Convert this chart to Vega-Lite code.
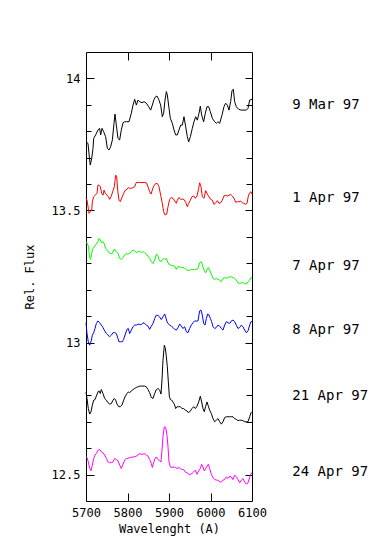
{
"$schema": "https://vega.github.io/schema/vega-lite/v6.json",
"width": 166, "height": 449,
"autosize": "none",
"padding": {"left": 86, "top": 52, "right": 138, "bottom": 57},
"background": "white",
"config": {
  "view": {"stroke": "black", "strokeWidth": 1},
  "axis": {"labelFont": "DejaVu Sans Mono", "labelFontSize": 12, "labelColor": "black", "titleFont": "DejaVu Sans Mono", "titleFontSize": 12, "titleFontWeight": "normal", "titleColor": "black", "tickColor": "black", "tickWidth": 1, "grid": false, "domain": false, "labelFlush": false, "labelOverlap": false}
},
"datasets": {
"mar9": [{"w":5700.0,"f":13.760},{"w":5704.8,"f":13.754},{"w":5708.8,"f":13.691},{"w":5710.4,"f":13.672},{"w":5713.7,"f":13.697},{"w":5716.9,"f":13.735},{"w":5718.5,"f":13.773},{"w":5723.3,"f":13.786},{"w":5728.9,"f":13.805},{"w":5732.9,"f":13.811},{"w":5735.3,"f":13.786},{"w":5738.6,"f":13.811},{"w":5742.6,"f":13.798},{"w":5747.4,"f":13.779},{"w":5751.4,"f":13.735},{"w":5755.4,"f":13.729},{"w":5759.4,"f":13.741},{"w":5763.5,"f":13.767},{"w":5767.5,"f":13.830},{"w":5769.9,"f":13.865},{"w":5773.1,"f":13.823},{"w":5777.1,"f":13.773},{"w":5781.1,"f":13.767},{"w":5785.1,"f":13.805},{"w":5789.2,"f":13.832},{"w":5793.2,"f":13.836},{"w":5797.2,"f":13.836},{"w":5803.6,"f":13.836},{"w":5809.2,"f":13.868},{"w":5813.3,"f":13.899},{"w":5817.3,"f":13.921},{"w":5821.3,"f":13.899},{"w":5825.3,"f":13.918},{"w":5829.3,"f":13.912},{"w":5834.9,"f":13.908},{"w":5839.8,"f":13.912},{"w":5845.4,"f":13.906},{"w":5851.0,"f":13.893},{"w":5855.8,"f":13.880},{"w":5859.8,"f":13.899},{"w":5863.9,"f":13.921},{"w":5867.9,"f":13.931},{"w":5871.1,"f":13.933},{"w":5875.1,"f":13.921},{"w":5879.9,"f":13.899},{"w":5883.9,"f":13.855},{"w":5887.1,"f":13.868},{"w":5890.4,"f":13.918},{"w":5893.6,"f":13.950},{"w":5896.0,"f":13.937},{"w":5900.0,"f":13.887},{"w":5903.2,"f":13.849},{"w":5908.0,"f":13.830},{"w":5912.0,"f":13.805},{"w":5916.1,"f":13.786},{"w":5920.1,"f":13.786},{"w":5924.1,"f":13.805},{"w":5928.1,"f":13.823},{"w":5932.1,"f":13.823},{"w":5936.1,"f":13.855},{"w":5940.2,"f":13.817},{"w":5944.2,"f":13.779},{"w":5947.4,"f":13.760},{"w":5951.4,"f":13.779},{"w":5956.2,"f":13.811},{"w":5960.2,"f":13.836},{"w":5964.3,"f":13.855},{"w":5968.3,"f":13.842},{"w":5972.3,"f":13.868},{"w":5975.5,"f":13.895},{"w":5978.7,"f":13.861},{"w":5983.5,"f":13.836},{"w":5987.5,"f":13.868},{"w":5991.6,"f":13.893},{"w":5995.6,"f":13.893},{"w":5999.6,"f":13.874},{"w":6004.4,"f":13.849},{"w":6010.0,"f":13.836},{"w":6014.1,"f":13.830},{"w":6018.1,"f":13.836},{"w":6022.1,"f":13.830},{"w":6027.7,"f":13.861},{"w":6032.5,"f":13.893},{"w":6036.5,"f":13.906},{"w":6040.6,"f":13.899},{"w":6044.6,"f":13.880},{"w":6048.6,"f":13.912},{"w":6051.8,"f":13.954},{"w":6055.0,"f":13.959},{"w":6058.2,"f":13.912},{"w":6062.2,"f":13.893},{"w":6067.9,"f":13.883},{"w":6074.3,"f":13.880},{"w":6080.7,"f":13.880},{"w":6086.3,"f":13.880},{"w":6090.4,"f":13.887},{"w":6094.4,"f":13.918},{"w":6100.0,"f":13.921}],
"apr1": [{"w":5700.0,"f":13.546},{"w":5702.4,"f":13.539},{"w":5705.6,"f":13.508},{"w":5707.2,"f":13.489},{"w":5710.4,"f":13.495},{"w":5713.7,"f":13.501},{"w":5715.3,"f":13.533},{"w":5718.5,"f":13.552},{"w":5722.5,"f":13.558},{"w":5726.5,"f":13.565},{"w":5728.9,"f":13.596},{"w":5731.3,"f":13.596},{"w":5734.5,"f":13.590},{"w":5737.8,"f":13.565},{"w":5741.0,"f":13.558},{"w":5743.4,"f":13.577},{"w":5746.6,"f":13.565},{"w":5750.6,"f":13.558},{"w":5753.8,"f":13.552},{"w":5757.0,"f":13.542},{"w":5761.0,"f":13.555},{"w":5765.1,"f":13.575},{"w":5768.3,"f":13.590},{"w":5771.5,"f":13.634},{"w":5773.9,"f":13.628},{"w":5776.3,"f":13.577},{"w":5779.5,"f":13.539},{"w":5782.7,"f":13.533},{"w":5786.7,"f":13.549},{"w":5790.8,"f":13.565},{"w":5794.8,"f":13.577},{"w":5798.8,"f":13.580},{"w":5802.0,"f":13.587},{"w":5805.2,"f":13.584},{"w":5809.2,"f":13.584},{"w":5813.3,"f":13.587},{"w":5817.3,"f":13.590},{"w":5821.3,"f":13.606},{"w":5829.3,"f":13.606},{"w":5837.3,"f":13.606},{"w":5845.4,"f":13.605},{"w":5849.4,"f":13.590},{"w":5853.4,"f":13.571},{"w":5856.6,"f":13.562},{"w":5859.8,"f":13.577},{"w":5863.0,"f":13.592},{"w":5867.9,"f":13.602},{"w":5871.9,"f":13.602},{"w":5875.9,"f":13.590},{"w":5879.9,"f":13.558},{"w":5883.9,"f":13.527},{"w":5887.1,"f":13.495},{"w":5890.4,"f":13.483},{"w":5894.4,"f":13.486},{"w":5897.6,"f":13.514},{"w":5901.6,"f":13.542},{"w":5905.6,"f":13.549},{"w":5909.6,"f":13.546},{"w":5913.7,"f":13.536},{"w":5917.7,"f":13.527},{"w":5920.1,"f":13.539},{"w":5924.1,"f":13.549},{"w":5928.1,"f":13.542},{"w":5932.1,"f":13.543},{"w":5936.1,"f":13.542},{"w":5940.2,"f":13.531},{"w":5944.2,"f":13.514},{"w":5947.4,"f":13.527},{"w":5951.4,"f":13.539},{"w":5955.4,"f":13.552},{"w":5959.4,"f":13.555},{"w":5963.4,"f":13.546},{"w":5967.5,"f":13.555},{"w":5971.5,"f":13.584},{"w":5973.9,"f":13.605},{"w":5977.1,"f":13.590},{"w":5980.3,"f":13.552},{"w":5984.3,"f":13.546},{"w":5988.4,"f":13.575},{"w":5992.4,"f":13.562},{"w":5996.4,"f":13.552},{"w":6000.4,"f":13.542},{"w":6004.4,"f":13.539},{"w":6008.4,"f":13.523},{"w":6012.5,"f":13.529},{"w":6016.5,"f":13.537},{"w":6020.5,"f":13.527},{"w":6024.5,"f":13.529},{"w":6028.5,"f":13.539},{"w":6032.5,"f":13.555},{"w":6036.5,"f":13.558},{"w":6040.6,"f":13.555},{"w":6044.6,"f":13.558},{"w":6048.6,"f":13.561},{"w":6052.6,"f":13.555},{"w":6056.6,"f":13.546},{"w":6060.6,"f":13.531},{"w":6064.6,"f":13.533},{"w":6068.7,"f":13.533},{"w":6072.7,"f":13.536},{"w":6076.7,"f":13.529},{"w":6080.7,"f":13.527},{"w":6084.7,"f":13.523},{"w":6087.9,"f":13.527},{"w":6091.2,"f":13.555},{"w":6094.4,"f":13.567},{"w":6097.6,"f":13.571},{"w":6100.0,"f":13.562}],
"apr7": [{"w":5700.0,"f":13.378},{"w":5702.4,"f":13.378},{"w":5705.6,"f":13.365},{"w":5708.8,"f":13.322},{"w":5711.2,"f":13.315},{"w":5713.7,"f":13.337},{"w":5716.9,"f":13.356},{"w":5720.9,"f":13.365},{"w":5724.9,"f":13.373},{"w":5728.9,"f":13.382},{"w":5731.3,"f":13.394},{"w":5734.5,"f":13.388},{"w":5736.9,"f":13.378},{"w":5741.0,"f":13.382},{"w":5744.2,"f":13.373},{"w":5747.4,"f":13.356},{"w":5751.4,"f":13.350},{"w":5755.4,"f":13.340},{"w":5759.4,"f":13.337},{"w":5763.5,"f":13.337},{"w":5766.7,"f":13.350},{"w":5769.9,"f":13.352},{"w":5773.1,"f":13.344},{"w":5777.1,"f":13.337},{"w":5781.1,"f":13.318},{"w":5785.1,"f":13.315},{"w":5789.2,"f":13.322},{"w":5793.2,"f":13.331},{"w":5797.2,"f":13.337},{"w":5801.2,"f":13.335},{"w":5805.2,"f":13.337},{"w":5809.2,"f":13.344},{"w":5813.3,"f":13.350},{"w":5817.3,"f":13.347},{"w":5821.3,"f":13.340},{"w":5825.3,"f":13.344},{"w":5829.3,"f":13.346},{"w":5833.3,"f":13.340},{"w":5837.3,"f":13.344},{"w":5841.4,"f":13.340},{"w":5845.4,"f":13.335},{"w":5849.4,"f":13.327},{"w":5853.4,"f":13.318},{"w":5857.4,"f":13.306},{"w":5861.4,"f":13.299},{"w":5865.5,"f":13.312},{"w":5869.5,"f":13.335},{"w":5872.7,"f":13.331},{"w":5875.9,"f":13.315},{"w":5879.1,"f":13.306},{"w":5883.1,"f":13.312},{"w":5887.1,"f":13.318},{"w":5890.4,"f":13.315},{"w":5893.6,"f":13.318},{"w":5897.6,"f":13.302},{"w":5901.6,"f":13.293},{"w":5905.6,"f":13.293},{"w":5909.6,"f":13.291},{"w":5913.7,"f":13.289},{"w":5917.7,"f":13.277},{"w":5921.7,"f":13.287},{"w":5925.7,"f":13.287},{"w":5929.7,"f":13.284},{"w":5933.7,"f":13.284},{"w":5937.7,"f":13.281},{"w":5941.8,"f":13.277},{"w":5945.8,"f":13.272},{"w":5949.8,"f":13.274},{"w":5953.8,"f":13.277},{"w":5957.8,"f":13.277},{"w":5961.8,"f":13.277},{"w":5965.9,"f":13.277},{"w":5969.9,"f":13.281},{"w":5973.9,"f":13.302},{"w":5977.9,"f":13.306},{"w":5981.9,"f":13.287},{"w":5985.9,"f":13.268},{"w":5988.4,"f":13.264},{"w":5991.6,"f":13.277},{"w":5994.8,"f":13.284},{"w":5998.0,"f":13.274},{"w":6002.0,"f":13.259},{"w":6006.0,"f":13.243},{"w":6010.0,"f":13.239},{"w":6014.1,"f":13.243},{"w":6018.1,"f":13.239},{"w":6022.1,"f":13.236},{"w":6026.1,"f":13.230},{"w":6030.1,"f":13.243},{"w":6034.1,"f":13.246},{"w":6038.2,"f":13.243},{"w":6042.2,"f":13.246},{"w":6046.2,"f":13.249},{"w":6050.2,"f":13.249},{"w":6054.2,"f":13.246},{"w":6058.2,"f":13.243},{"w":6062.2,"f":13.236},{"w":6066.3,"f":13.226},{"w":6070.3,"f":13.224},{"w":6074.3,"f":13.226},{"w":6078.3,"f":13.226},{"w":6082.3,"f":13.224},{"w":6086.3,"f":13.221},{"w":6090.4,"f":13.230},{"w":6094.4,"f":13.236},{"w":6097.6,"f":13.246},{"w":6100.0,"f":13.245}],
"apr8": [{"w":5700.0,"f":13.075},{"w":5702.4,"f":13.034},{"w":5705.6,"f":13.003},{"w":5708.8,"f":12.990},{"w":5712.0,"f":13.003},{"w":5715.3,"f":13.028},{"w":5718.5,"f":13.037},{"w":5721.7,"f":13.053},{"w":5724.9,"f":13.072},{"w":5728.9,"f":13.082},{"w":5732.9,"f":13.075},{"w":5736.9,"f":13.066},{"w":5741.0,"f":13.057},{"w":5745.0,"f":13.044},{"w":5749.0,"f":13.034},{"w":5753.0,"f":13.028},{"w":5757.0,"f":13.022},{"w":5761.0,"f":13.028},{"w":5765.1,"f":13.037},{"w":5769.1,"f":13.038},{"w":5773.1,"f":13.034},{"w":5777.1,"f":13.015},{"w":5779.5,"f":13.003},{"w":5783.5,"f":13.003},{"w":5787.5,"f":13.003},{"w":5790.8,"f":13.012},{"w":5794.8,"f":13.032},{"w":5798.8,"f":13.050},{"w":5802.0,"f":13.053},{"w":5805.2,"f":13.034},{"w":5809.2,"f":13.047},{"w":5813.3,"f":13.060},{"w":5817.3,"f":13.066},{"w":5821.3,"f":13.066},{"w":5825.3,"f":13.070},{"w":5829.3,"f":13.068},{"w":5833.3,"f":13.068},{"w":5837.3,"f":13.075},{"w":5841.4,"f":13.072},{"w":5845.4,"f":13.066},{"w":5849.4,"f":13.062},{"w":5853.4,"f":13.050},{"w":5857.4,"f":13.062},{"w":5861.4,"f":13.072},{"w":5865.5,"f":13.091},{"w":5869.5,"f":13.104},{"w":5873.5,"f":13.102},{"w":5877.5,"f":13.097},{"w":5881.5,"f":13.087},{"w":5885.5,"f":13.097},{"w":5889.6,"f":13.108},{"w":5892.0,"f":13.097},{"w":5895.2,"f":13.079},{"w":5897.6,"f":13.072},{"w":5901.6,"f":13.066},{"w":5905.6,"f":13.062},{"w":5909.6,"f":13.057},{"w":5913.7,"f":13.050},{"w":5917.7,"f":13.047},{"w":5921.7,"f":13.057},{"w":5925.7,"f":13.070},{"w":5929.7,"f":13.062},{"w":5933.7,"f":13.053},{"w":5937.7,"f":13.060},{"w":5941.8,"f":13.041},{"w":5945.8,"f":13.037},{"w":5949.8,"f":13.053},{"w":5953.8,"f":13.066},{"w":5957.8,"f":13.075},{"w":5961.8,"f":13.082},{"w":5965.9,"f":13.081},{"w":5969.9,"f":13.082},{"w":5973.9,"f":13.120},{"w":5977.1,"f":13.123},{"w":5980.3,"f":13.104},{"w":5983.5,"f":13.072},{"w":5986.7,"f":13.066},{"w":5990.0,"f":13.091},{"w":5993.2,"f":13.108},{"w":5996.4,"f":13.104},{"w":5999.6,"f":13.091},{"w":6002.8,"f":13.079},{"w":6006.0,"f":13.060},{"w":6010.0,"f":13.053},{"w":6014.1,"f":13.057},{"w":6018.1,"f":13.066},{"w":6022.1,"f":13.062},{"w":6026.1,"f":13.053},{"w":6030.1,"f":13.047},{"w":6034.1,"f":13.066},{"w":6038.2,"f":13.079},{"w":6042.2,"f":13.075},{"w":6046.2,"f":13.072},{"w":6050.2,"f":13.082},{"w":6054.2,"f":13.085},{"w":6058.2,"f":13.079},{"w":6062.2,"f":13.066},{"w":6066.3,"f":13.053},{"w":6070.3,"f":13.057},{"w":6074.3,"f":13.066},{"w":6078.3,"f":13.060},{"w":6082.3,"f":13.047},{"w":6086.3,"f":13.037},{"w":6090.4,"f":13.044},{"w":6094.4,"f":13.066},{"w":6097.6,"f":13.079},{"w":6100.0,"f":13.079}],
"apr21": [{"w":5700.0,"f":12.813},{"w":5702.4,"f":12.788},{"w":5705.6,"f":12.750},{"w":5708.8,"f":12.729},{"w":5712.0,"f":12.738},{"w":5715.3,"f":12.763},{"w":5718.5,"f":12.782},{"w":5721.7,"f":12.784},{"w":5724.9,"f":12.797},{"w":5728.9,"f":12.813},{"w":5731.3,"f":12.817},{"w":5734.5,"f":12.807},{"w":5736.9,"f":12.822},{"w":5741.0,"f":12.807},{"w":5745.0,"f":12.788},{"w":5749.0,"f":12.782},{"w":5753.0,"f":12.772},{"w":5757.0,"f":12.767},{"w":5761.0,"f":12.769},{"w":5765.1,"f":12.782},{"w":5768.3,"f":12.788},{"w":5771.5,"f":12.782},{"w":5774.7,"f":12.767},{"w":5778.7,"f":12.757},{"w":5782.7,"f":12.757},{"w":5786.7,"f":12.763},{"w":5790.8,"f":12.782},{"w":5794.8,"f":12.797},{"w":5798.8,"f":12.807},{"w":5802.0,"f":12.813},{"w":5805.2,"f":12.810},{"w":5809.2,"f":12.817},{"w":5813.3,"f":12.822},{"w":5817.3,"f":12.826},{"w":5821.3,"f":12.830},{"w":5825.3,"f":12.832},{"w":5829.3,"f":12.835},{"w":5833.3,"f":12.835},{"w":5837.3,"f":12.835},{"w":5841.4,"f":12.835},{"w":5845.4,"f":12.832},{"w":5849.4,"f":12.822},{"w":5853.4,"f":12.810},{"w":5857.4,"f":12.792},{"w":5861.4,"f":12.788},{"w":5865.5,"f":12.807},{"w":5869.5,"f":12.822},{"w":5873.5,"f":12.826},{"w":5877.5,"f":12.820},{"w":5880.7,"f":12.805},{"w":5883.1,"f":12.858},{"w":5885.5,"f":12.933},{"w":5888.8,"f":12.990},{"w":5891.2,"f":12.978},{"w":5893.6,"f":12.946},{"w":5896.0,"f":12.908},{"w":5898.4,"f":12.851},{"w":5900.8,"f":12.797},{"w":5903.2,"f":12.784},{"w":5906.4,"f":12.782},{"w":5909.6,"f":12.775},{"w":5912.8,"f":12.767},{"w":5916.1,"f":12.750},{"w":5919.3,"f":12.757},{"w":5923.3,"f":12.757},{"w":5927.3,"f":12.757},{"w":5931.3,"f":12.750},{"w":5935.3,"f":12.750},{"w":5939.4,"f":12.744},{"w":5943.4,"f":12.741},{"w":5947.4,"f":12.734},{"w":5951.4,"f":12.741},{"w":5955.4,"f":12.750},{"w":5959.4,"f":12.757},{"w":5963.4,"f":12.750},{"w":5967.5,"f":12.759},{"w":5971.5,"f":12.775},{"w":5975.5,"f":12.797},{"w":5978.7,"f":12.775},{"w":5981.9,"f":12.750},{"w":5985.1,"f":12.738},{"w":5988.4,"f":12.759},{"w":5991.6,"f":12.775},{"w":5994.8,"f":12.759},{"w":5998.0,"f":12.744},{"w":6002.0,"f":12.731},{"w":6006.0,"f":12.712},{"w":6010.0,"f":12.700},{"w":6014.1,"f":12.706},{"w":6018.1,"f":12.712},{"w":6022.1,"f":12.700},{"w":6026.1,"f":12.691},{"w":6030.1,"f":12.700},{"w":6034.1,"f":12.716},{"w":6038.2,"f":12.719},{"w":6042.2,"f":12.719},{"w":6046.2,"f":12.719},{"w":6050.2,"f":12.719},{"w":6054.2,"f":12.719},{"w":6058.2,"f":12.712},{"w":6062.2,"f":12.709},{"w":6066.3,"f":12.704},{"w":6070.3,"f":12.706},{"w":6074.3,"f":12.706},{"w":6078.3,"f":12.704},{"w":6082.3,"f":12.700},{"w":6086.3,"f":12.700},{"w":6090.4,"f":12.700},{"w":6094.4,"f":12.719},{"w":6097.6,"f":12.734},{"w":6100.0,"f":12.738}],
"apr24": [{"w":5700.0,"f":12.567},{"w":5702.4,"f":12.565},{"w":5705.6,"f":12.548},{"w":5708.8,"f":12.523},{"w":5712.0,"f":12.514},{"w":5715.3,"f":12.536},{"w":5718.5,"f":12.561},{"w":5721.7,"f":12.574},{"w":5724.9,"f":12.580},{"w":5728.9,"f":12.592},{"w":5732.9,"f":12.595},{"w":5736.9,"f":12.586},{"w":5741.0,"f":12.582},{"w":5745.0,"f":12.574},{"w":5749.0,"f":12.561},{"w":5753.0,"f":12.548},{"w":5757.0,"f":12.545},{"w":5761.0,"f":12.545},{"w":5765.1,"f":12.548},{"w":5769.1,"f":12.561},{"w":5773.1,"f":12.557},{"w":5777.1,"f":12.552},{"w":5781.1,"f":12.536},{"w":5785.1,"f":12.523},{"w":5789.2,"f":12.539},{"w":5793.2,"f":12.555},{"w":5797.2,"f":12.561},{"w":5801.2,"f":12.561},{"w":5805.2,"f":12.565},{"w":5809.2,"f":12.565},{"w":5813.3,"f":12.567},{"w":5817.3,"f":12.567},{"w":5821.3,"f":12.570},{"w":5825.3,"f":12.574},{"w":5829.3,"f":12.580},{"w":5833.3,"f":12.577},{"w":5837.3,"f":12.577},{"w":5841.4,"f":12.580},{"w":5845.4,"f":12.574},{"w":5849.4,"f":12.570},{"w":5853.4,"f":12.557},{"w":5857.4,"f":12.542},{"w":5859.8,"f":12.527},{"w":5863.0,"f":12.545},{"w":5866.3,"f":12.561},{"w":5869.5,"f":12.567},{"w":5873.5,"f":12.557},{"w":5877.5,"f":12.552},{"w":5880.7,"f":12.548},{"w":5883.1,"f":12.592},{"w":5885.5,"f":12.643},{"w":5888.8,"f":12.681},{"w":5892.0,"f":12.678},{"w":5895.2,"f":12.649},{"w":5897.6,"f":12.605},{"w":5900.0,"f":12.548},{"w":5903.2,"f":12.529},{"w":5907.2,"f":12.527},{"w":5911.2,"f":12.529},{"w":5915.3,"f":12.527},{"w":5919.3,"f":12.523},{"w":5923.3,"f":12.527},{"w":5927.3,"f":12.523},{"w":5931.3,"f":12.519},{"w":5935.3,"f":12.519},{"w":5939.4,"f":12.510},{"w":5943.4,"f":12.507},{"w":5947.4,"f":12.501},{"w":5951.4,"f":12.501},{"w":5955.4,"f":12.504},{"w":5959.4,"f":12.510},{"w":5963.4,"f":12.517},{"w":5967.5,"f":12.501},{"w":5971.5,"f":12.514},{"w":5975.5,"f":12.523},{"w":5978.7,"f":12.539},{"w":5981.9,"f":12.529},{"w":5985.1,"f":12.514},{"w":5988.4,"f":12.523},{"w":5991.6,"f":12.532},{"w":5994.8,"f":12.539},{"w":5998.0,"f":12.523},{"w":6002.0,"f":12.501},{"w":6006.0,"f":12.489},{"w":6010.0,"f":12.481},{"w":6014.1,"f":12.479},{"w":6018.1,"f":12.479},{"w":6022.1,"f":12.472},{"w":6026.1,"f":12.472},{"w":6030.1,"f":12.479},{"w":6034.1,"f":12.481},{"w":6038.2,"f":12.491},{"w":6042.2,"f":12.485},{"w":6046.2,"f":12.494},{"w":6050.2,"f":12.491},{"w":6054.2,"f":12.481},{"w":6058.2,"f":12.498},{"w":6062.2,"f":12.491},{"w":6066.3,"f":12.481},{"w":6070.3,"f":12.469},{"w":6074.3,"f":12.479},{"w":6078.3,"f":12.485},{"w":6082.3,"f":12.472},{"w":6086.3,"f":12.464},{"w":6090.4,"f":12.469},{"w":6094.4,"f":12.489},{"w":6097.6,"f":12.504},{"w":6100.0,"f":12.507}],
"labels": [{"w":6197,"f":13.899,"t":"9 Mar 97"},{"w":6197,"f":13.549,"t":"1 Apr 97"},{"w":6197,"f":13.289,"t":"7 Apr 97"},{"w":6197,"f":13.047,"t":"8 Apr 97"},{"w":6197,"f":12.797,"t":"21 Apr 97"},{"w":6197,"f":12.509,"t":"24 Apr 97"}]
},
"resolve": {"axis": {"x": "independent", "y": "independent"}},
"layer": [
{"data": {"name": "mar9"}, "mark": {"type": "line", "color": "#000000", "strokeWidth": 1},
 "encoding": {
  "x": {"field": "w", "type": "quantitative", "scale": {"domain": [5700, 6100], "nice": false, "zero": false},
        "axis": {"orient": "bottom", "values": [5700, 5800, 5900, 6000, 6100], "ticks": false, "labelPadding": 6, "format": "d", "title": "Wavelenght (A)", "titlePadding": 5}},
  "y": {"field": "f", "type": "quantitative", "scale": {"domain": [12.4, 14.1], "nice": false, "zero": false},
        "axis": {"orient": "left", "values": [12.5, 13, 13.5, 14], "ticks": false, "labelPadding": 6, "format": "~g", "title": "Rel. Flux", "titlePadding": 15}}
 }},
{"data": {"name": "apr1"}, "mark": {"type": "line", "color": "#ff0000", "strokeWidth": 1},
 "encoding": {
  "x": {"field": "w", "type": "quantitative", "scale": {"domain": [5700, 6100], "nice": false, "zero": false},
        "axis": {"orient": "bottom", "values": [5800, 5900, 6000], "labels": false, "tickSize": -8, "title": null}},
  "y": {"field": "f", "type": "quantitative", "scale": {"domain": [12.4, 14.1], "nice": false, "zero": false},
        "axis": {"orient": "left", "values": [12.5, 13, 13.5, 14], "labels": false, "tickSize": -8, "title": null}}
 }},
{"data": {"name": "apr7"}, "mark": {"type": "line", "color": "#00ff00", "strokeWidth": 1},
 "encoding": {
  "x": {"field": "w", "type": "quantitative", "scale": {"domain": [5700, 6100], "nice": false, "zero": false},
        "axis": {"orient": "top", "values": [5800, 5900, 6000], "labels": false, "tickSize": -8, "title": null}},
  "y": {"field": "f", "type": "quantitative", "scale": {"domain": [12.4, 14.1], "nice": false, "zero": false},
        "axis": {"orient": "right", "values": [12.5, 13, 13.5, 14], "labels": false, "tickSize": -7, "title": null}}
 }},
{"data": {"name": "apr8"}, "mark": {"type": "line", "color": "#0000ff", "strokeWidth": 1},
 "encoding": {
  "x": {"field": "w", "type": "quantitative", "scale": {"domain": [5700, 6100], "nice": false, "zero": false}, "axis": null},
  "y": {"field": "f", "type": "quantitative", "scale": {"domain": [12.4, 14.1], "nice": false, "zero": false},
        "axis": {"orient": "left", "values": [12.6, 12.7, 12.8, 12.9, 13.1, 13.2, 13.3, 13.4, 13.6, 13.7, 13.8, 13.9], "labels": false, "tickSize": -5, "title": null}}
 }},
{"data": {"name": "apr21"}, "mark": {"type": "line", "color": "#000000", "strokeWidth": 1},
 "encoding": {
  "x": {"field": "w", "type": "quantitative", "scale": {"domain": [5700, 6100], "nice": false, "zero": false}, "axis": null},
  "y": {"field": "f", "type": "quantitative", "scale": {"domain": [12.4, 14.1], "nice": false, "zero": false},
        "axis": {"orient": "right", "values": [12.6, 12.7, 12.8, 12.9, 13.1, 13.2, 13.3, 13.4, 13.6, 13.7, 13.8, 13.9], "labels": false, "tickSize": -6, "title": null}}
 }},
{"data": {"name": "apr24"}, "mark": {"type": "line", "color": "#ff00ff", "strokeWidth": 1},
 "encoding": {
  "x": {"field": "w", "type": "quantitative", "scale": {"domain": [5700, 6100], "nice": false, "zero": false}, "axis": null},
  "y": {"field": "f", "type": "quantitative", "scale": {"domain": [12.4, 14.1], "nice": false, "zero": false}, "axis": null}
 }},
{"data": {"name": "labels"}, "mark": {"type": "text", "align": "left", "baseline": "middle", "font": "DejaVu Sans Mono", "fontSize": 14, "color": "#000000"},
 "encoding": {
  "x": {"field": "w", "type": "quantitative", "scale": {"domain": [5700, 6100], "nice": false, "zero": false}, "axis": null},
  "y": {"field": "f", "type": "quantitative", "scale": {"domain": [12.4, 14.1], "nice": false, "zero": false}, "axis": null},
  "text": {"field": "t", "type": "nominal"}
 }}
]
}
